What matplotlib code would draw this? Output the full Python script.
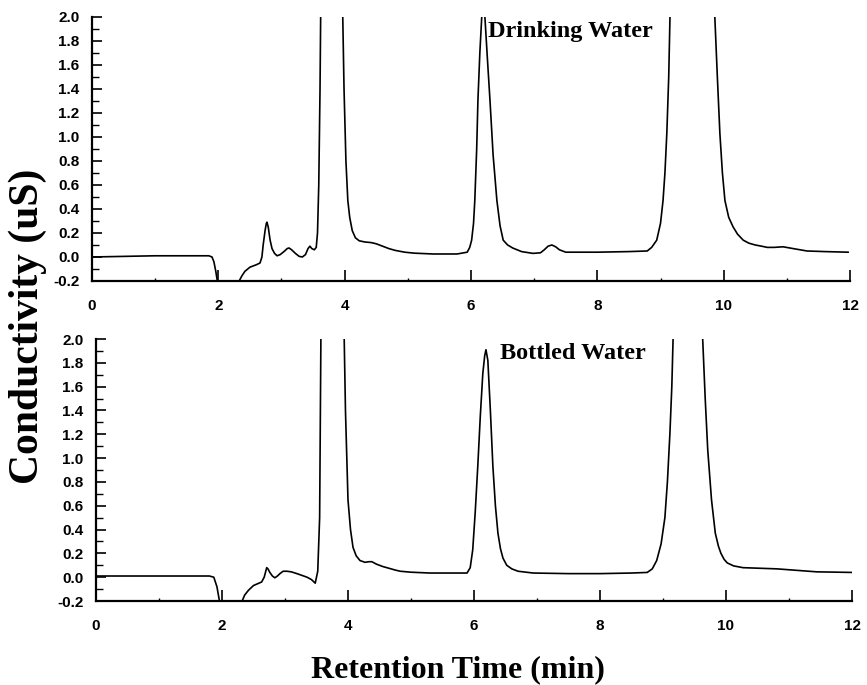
import numpy as np
import matplotlib
matplotlib.use('Agg')
import matplotlib.pyplot as plt
from matplotlib.ticker import MultipleLocator, FormatStrFormatter

# Drinking water trace (retention time in min, conductivity in uS)
drink_t = [0.0, 0.5, 1.0, 1.5, 1.85, 1.9, 1.93, 1.96, 1.99, 2.05, 2.25, 2.33, 2.37,
           2.42, 2.5, 2.6, 2.66, 2.69, 2.71, 2.74, 2.76, 2.77, 2.79, 2.82, 2.85,
           2.89, 2.93, 2.98, 3.05, 3.09, 3.12, 3.16, 3.22, 3.28, 3.33, 3.38, 3.42,
           3.45, 3.48, 3.52, 3.55, 3.57, 3.59, 3.61, 3.62, 3.8, 3.97, 3.99, 4.02,
           4.05, 4.08, 4.12, 4.17, 4.23, 4.32, 4.42, 4.5, 4.6, 4.7, 4.8, 4.95, 5.1,
           5.4, 5.78, 5.94, 5.98, 6.01, 6.04, 6.06, 6.09, 6.11, 6.14, 6.17, 6.2,
           6.22, 6.26, 6.3, 6.35, 6.41, 6.46, 6.51, 6.58, 6.66, 6.8, 6.98, 7.1,
           7.16, 7.22, 7.28, 7.34, 7.4, 7.5, 8.0, 8.5, 8.79, 8.86, 8.94, 9.0, 9.04,
           9.07, 9.1, 9.13, 9.15, 9.5, 9.86, 9.9, 9.94, 9.98, 10.02, 10.08, 10.15,
           10.22, 10.31, 10.4, 10.5, 10.6, 10.69, 10.8, 10.94, 11.1, 11.32, 11.6,
           11.97]
drink_v = [0.0, 0.005, 0.01, 0.01, 0.01, 0.0, -0.04, -0.12, -0.22, -0.5, -0.5, -0.2,
           -0.16, -0.12, -0.085, -0.065, -0.05, 0.0, 0.1, 0.22, 0.28, 0.29, 0.25,
           0.14, 0.07, 0.03, 0.01, 0.02, 0.05, 0.07, 0.075, 0.06, 0.03, 0.005, 0.0,
           0.02, 0.07, 0.09, 0.07, 0.06, 0.08, 0.2, 0.6, 1.4, 2.0, 6.0, 2.0, 1.4,
           0.8, 0.47, 0.33, 0.22, 0.16, 0.135, 0.125, 0.12, 0.11, 0.09, 0.07, 0.055,
           0.04, 0.032, 0.025, 0.025, 0.04, 0.08, 0.14, 0.28, 0.47, 0.9, 1.31, 1.7,
           2.0, 2.3, 2.0, 1.65, 1.31, 0.85, 0.47, 0.26, 0.14, 0.1, 0.075, 0.045,
           0.03, 0.035, 0.06, 0.09, 0.1, 0.085, 0.06, 0.04, 0.04, 0.045, 0.05, 0.08,
           0.14, 0.28, 0.47, 0.7, 1.03, 1.5, 2.0, 8.0, 2.0, 1.5, 1.03, 0.7, 0.47,
           0.33, 0.25, 0.19, 0.14, 0.115, 0.1, 0.09, 0.08, 0.08, 0.085, 0.07, 0.05,
           0.045, 0.04]

# Bottled water trace
bottle_t = [0.0, 1.0, 1.8, 1.87, 1.92, 1.96, 2.0, 2.25, 2.32, 2.36, 2.42, 2.5, 2.63,
            2.67, 2.69, 2.71, 2.73, 2.76, 2.8, 2.84, 2.88, 2.92, 2.97, 3.03, 3.1,
            3.19, 3.27, 3.35, 3.42, 3.48, 3.52, 3.55, 3.57, 3.75, 3.94, 3.96, 4.0,
            4.04, 4.08, 4.13, 4.19, 4.27, 4.33, 4.38, 4.45, 4.55, 4.65, 4.75, 4.83,
            5.0, 5.3, 5.89, 5.94, 5.98, 6.02, 6.06, 6.1, 6.14, 6.17, 6.19, 6.22,
            6.26, 6.3, 6.34, 6.38, 6.42, 6.46, 6.52, 6.6, 6.7, 6.94, 7.5, 8.0, 8.5,
            8.75, 8.83, 8.9, 8.97, 9.03, 9.07, 9.11, 9.14, 9.16, 9.4, 9.63, 9.67,
            9.71, 9.77, 9.83, 9.88, 9.92, 9.97, 10.02, 10.12, 10.27, 10.81, 11.44,
            12.0]
bottle_v = [0.01, 0.01, 0.01, 0.0, -0.08, -0.2, -0.5, -0.5, -0.2, -0.15, -0.11,
            -0.07, -0.04, 0.0, 0.04, 0.08, 0.07, 0.04, 0.01, -0.005, 0.01, 0.03,
            0.05, 0.05, 0.045, 0.03, 0.015, 0.0, -0.02, -0.05, 0.05, 0.5, 2.0, 6.0,
            2.0, 1.4, 0.65, 0.4, 0.25, 0.18, 0.14, 0.125, 0.13, 0.13, 0.11, 0.09,
            0.075, 0.06, 0.05, 0.042, 0.035, 0.035, 0.08, 0.23, 0.55, 0.93, 1.35,
            1.71, 1.86, 1.91, 1.82, 1.4, 0.93, 0.6, 0.37, 0.24, 0.16, 0.1, 0.07,
            0.05, 0.035, 0.03, 0.03, 0.035, 0.04, 0.07, 0.14, 0.28, 0.5, 0.8, 1.21,
            1.6, 2.0, 8.0, 2.0, 1.5, 1.07, 0.65, 0.37, 0.26, 0.2, 0.15, 0.12, 0.095,
            0.08, 0.07, 0.045, 0.04]

sans = ['Liberation Sans', 'DejaVu Sans']
serif = ['Liberation Serif', 'DejaVu Serif']

fig = plt.figure(figsize=(8.67, 6.85), dpi=100)
ax1 = fig.add_axes([0.1061, 0.5898, 0.8743, 0.3854])
ax2 = fig.add_axes([0.1107, 0.1226, 0.872, 0.3825])

for ax, t, v, label, lx in [(ax1, drink_t, drink_v, 'Drinking Water', 6.27),
                            (ax2, bottle_t, bottle_v, 'Bottled Water', 6.42)]:
    ax.plot(t, v, color='black', lw=1.2)
    ax.set_xlim(0, 12)
    ax.set_ylim(-0.2, 2.0)
    ax.spines['top'].set_visible(False)
    ax.spines['right'].set_visible(False)
    ax.spines['left'].set_linewidth(1.6)
    ax.spines['bottom'].set_linewidth(1.6)
    ax.xaxis.set_major_locator(MultipleLocator(2))
    ax.xaxis.set_minor_locator(MultipleLocator(1))
    ax.yaxis.set_major_locator(MultipleLocator(0.2))
    ax.yaxis.set_minor_locator(MultipleLocator(0.1))
    ax.yaxis.set_major_formatter(FormatStrFormatter('%.1f'))
    ax.tick_params(axis='y', which='major', direction='in', length=7, width=1.2, pad=9)
    ax.tick_params(axis='y', which='minor', direction='in', length=5, width=1.0)
    ax.tick_params(axis='x', which='major', direction='in', length=8, width=1.2, pad=13)
    ax.tick_params(axis='x', which='minor', direction='in', length=2.5, width=1.0)
    for lab in ax.get_xticklabels() + ax.get_yticklabels():
        lab.set_family(sans)
        lab.set_fontsize(11)
        lab.set_fontweight('bold')
    ax.text(lx, 1.88, label, family=serif, fontweight='bold', fontsize=17.5,
            va='center', ha='left')

fig.text(0.032, 0.523, 'Conductivity (uS)', rotation=90, family=serif,
         fontweight='bold', fontsize=30, ha='center', va='center')
fig.text(0.528, 0.022, 'Retention Time (min)', family=serif,
         fontweight='bold', fontsize=23, ha='center', va='center')

fig.savefig('out.png', dpi=100)
